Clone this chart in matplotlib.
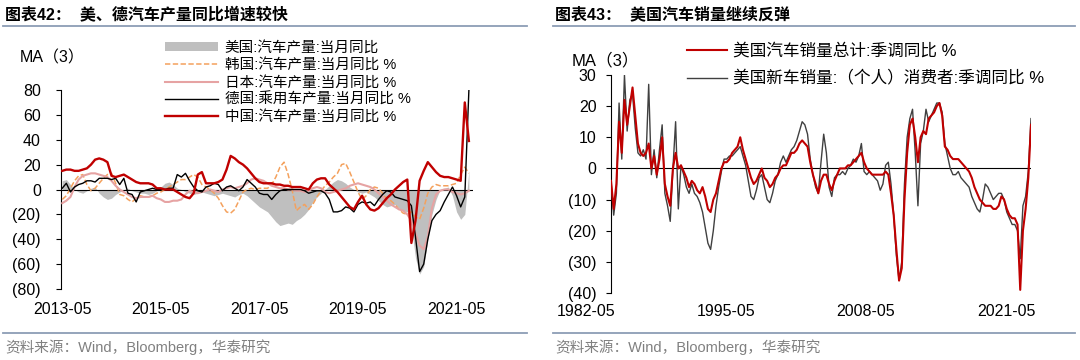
import matplotlib
matplotlib.use('Agg')
import matplotlib.pyplot as plt
import matplotlib.transforms as mtransforms
from matplotlib.patches import Patch
from matplotlib.lines import Line2D
from matplotlib.ticker import FuncFormatter

plt.rcParams['font.family'] = ['Liberation Sans', 'Noto Sans CJK SC']

# ---- left chart: MA(3) yoy %, monthly from 2013-05 ----
prod_ticks = ['2013-05', '2015-05', '2017-05', '2019-05', '2021-05']
us_prod = [7, 8, 4, 0, -2, -3, -1, 1, 2, -3,
           -6, -8, -7, -4, -2, 0, 1, -1, -2, -3,
           -3, -4, -3, -1, 2, 5, 6, 4, 1, 0,
           -2, -3, -4, -3, -2, -3, -4, -5, -4, -3,
           -4, -5, -6, -4, -3, -5, -8, -11, -14, -16,
           -18, -22, -26, -29, -28, -27, -28, -25, -23, -20,
           -16, -10, -6, -3, 0, 3, 6, 8, 7, 5,
           2, 0, -2, -3, -2, -4, -6, -9, -12, -14,
           -13, -12, -15, -17, -18, -30, -55, -68, -62, -40,
           -20, -8, 0, 1, 2, -5, -18, -24, -20, 15]
kr_prod = [-8, -5, 1, 7, 11, 12, 4, -1, 1, 5,
           9, 12, 13, 5, -4, -5, -8, -10, -7, -5,
           -6, -6, -5, -3, -2, 0, 2, 4, 6, 8,
           8, 10, 12, 10, 4, 2, 0, -3, -7, -13,
           -18, -19, -16, -9, -2, 0, 1, 0, 1, 1,
           1, 4, 10, 18, 22, 12, -1, -17, -14, -12,
           -16, -12, -6, -1, 3, 6, 10, 13, 20, 21,
           14, 6, -2, -8, -5, 0, 2, 1, -3, -8,
           -9, -12, -16, -19, -20, -18, -22, -24, -15, -3,
           2, 4, 3, 3, 3, 4, 5, 12, 18, 13]
jp_prod = [-11, -9, -6, 2, 8, 11, 12, 13, 13, 12,
           11, 10, 7, 3, 0, -2, -4, -6, -7, -6,
           -6, -6, -5, -7, -8, -10, -10, -9, -9, -8,
           -4, -1, -2, -3, -2, -1, 0, -1, -2, 0,
           1, 2, 1, 2, 3, 5, 8, 9, 8, 7,
           5, 3, 2, 1, 1, 0, 0, -1, -1, -2,
           -1, 1, 2, 1, -2, -3, -2, -1, 0, 1,
           3, 4, 5, 4, 3, 2, 0, -3, -6, -9,
           -12, -14, -16, -17, -20, -25, -35, -45, -48, -38,
           -15, -4, -1, 0, 0, -2, -3, -4, -3, -1]
de_prod = [1, 5, -2, 2, 4, 5, 7, 7, 6, 9,
           9, 9, 8, 9, 4, 9, -3, -4, -10, -2,
           -1, 0, 1, 0, 0, 0, 1, 1, 12, 10,
           13, 7, 2, -1, -2, 2, 3, 5, 4, -1,
           2, 3, 1, -1, 2, 8, 5, 2, -3, -4,
           -4, -8, -4, -1, 0, 0, 0, 0, 0, -1,
           -3, -2, -1, -1, -3, -8, -18, -18, -17, -14,
           -15, -18, -12, -10, -11, -10, -13, -8, -4, -1,
           -2, -6, -7, -8, -9, -13, -38, -66, -60, -40,
           -25, -20, -17, -10, -4, 2, -5, -14, -6, 80]
cn_prod = [15, 16, 16, 15, 15, 16, 17, 20, 24, 25,
           24, 22, 11, 10, 11, 12, 10, 8, 6, 5,
           5, 5, 4, 1, 1, 0, 0, 0, -2, -4,
           -6, -7, -3, 12, 14, 5, 5, 5, 6, 8,
           16, 27, 25, 22, 20, 17, 13, 9, 6, 5,
           5, 5, 4, 4, 3, 3, 2, 2, 2, 1,
           0, 5, 8, 9, 9, 4, 1, -2, -6, -10,
           -14, -16, -10, -5, -12, -16, -17, -15, -11, -7,
           -4, 0, 3, 6, 8, -43, -25, 7, 15, 22,
           18, 14, 11, 10, 10, 9, 8, 7, 70, 39]

# ---- right chart: MA(3) yoy %, sampled quarterly from 1982-05 ----
sales_ticks = ['1982-05', '1995-05', '2008-05', '2021-05']
us_sales_total = [-4, -13, -5, 15, 5, 22, 14, 20, 26, 17,
                  8, 5, 4, 5, 8, 0, 4, -2, 3, 10,
                  -5, -9, -12, 0, 5, 0, 1, -1, -3, -6,
                  -4, -5, -7, -8, -6, -9, -13, -14, -10, -8,
                  -4, 0, 2, 2, 3, 5, 6, 7, 10, 6,
                  3, 0, -3, -5, -4, -2, 0, -3, -4, -6,
                  -5, -3, -2, 0, 1, 1, 3, 5, 5, 6,
                  8, 9, 8, 7, 2, -2, -5, -8, -4, -2,
                  -2, -5, -7, -4, -2, 0, 0, 0, 1, 1,
                  2, 3, 4, 5, 2, 0, -1, -2, -2, -2,
                  -2, -2, -1, -2, -8, -15, -26, -36, -32, -10,
                  5, 14, 16, 10, 2, 10, 12, 11, 16, 17,
                  18, 20, 21, 17, 7, 6, 4, 3, 3, 3,
                  2, 1, 0, -1, -3, -6, -8, -10, -11, -12,
                  -12, -12, -13, -13, -12, -9, -10, -13, -15, -16,
                  -16, -18, -39, -20, -13, -3, 14]
us_new_car = [-4, -15, -8, 21, 3, 30, 12, 22, 24, 13,
              5, 4, 6, 3, 27, -2, 6, -3, 6, 14,
              -8, -12, -17, 0, 15, -13, 1, -2, -6, -8,
              -5, -8, -9, -11, -14, -19, -24, -26, -20, -12,
              -6, -1, 3, 3, 4, 4, 5, 6, 7, 4,
              1, -4, -9, -10, -7, -3, -2, -6, -10, -11,
              -8, -4, -2, 2, 4, 2, 4, 6, 7, 9,
              12, 15, 14, 11, 3, -2, -6, -8, 2, 11,
              5, -6, -9, -3, -2, -2, -1, -2, 0, 1,
              3, 2, 4, 8, -1, -2, -1, -2, -3, -4,
              -7, -5, 1, 2, -5, -15, -28, -36, -30, -5,
              10, 16, 19, 5, -12, 8, 12, 19, 15, 17,
              19, 21, 21, 18, 8, 4, 0, -2, -2, -1,
              -3, -4, -5, -6, -9, -11, -13, -14, -10, -5,
              -6, -8, -10, -9, -8, -8, -10, -14, -16, -18,
              -18, -20, -29, -12, -9, -1, 16]

GRAY_FILL = '#bfbfbf'
ORANGE = '#F4A15D'
PINK = '#E6A3A3'
RED = '#C00000'
RULE = '#8C9DB5'


def paren(v, pos):
    v = int(round(v))
    return f'({-v})' if v < 0 else f'{v}'


def style_axis(ax, ypad):
    for s in ['top', 'right', 'bottom']:
        ax.spines[s].set_visible(False)
    ax.spines['left'].set_linewidth(0.8)
    ax.tick_params(axis='y', direction='out', length=3.5, width=0.8,
                   pad=ypad, labelsize=11.5)
    ax.tick_params(axis='x', length=0, pad=9, labelsize=11.5)
    ax.yaxis.set_major_formatter(FuncFormatter(paren))
    ax.axhline(0, color='black', lw=0.8, zorder=3)


fig = plt.figure(figsize=(10.8, 3.6), dpi=100)

# ---------------- left panel ----------------
ax1 = fig.add_axes([61 / 1080, 1 - 289 / 360, 412 / 1080, 199 / 360])
m = list(range(len(cn_prod)))
ax1.fill_between(m, us_prod, 0, color=GRAY_FILL, lw=0, zorder=1)
h_kr, = ax1.plot(m, kr_prod, color=ORANGE, lw=1.1, ls=(0, (3.5, 1.6)), zorder=4)
h_jp, = ax1.plot(m, jp_prod, color=PINK, lw=1.5, zorder=4)
h_de, = ax1.plot(m, de_prod, color='black', lw=1.0, zorder=5)
h_cn, = ax1.plot(m, cn_prod, color=RED, lw=1.7, zorder=6)
ax1.set_xlim(-0.3, 100)
ax1.set_ylim(-80, 80)
ax1.set_yticks(range(-80, 81, 20))
ax1.set_xticks([i * 24 for i in range(len(prod_ticks))])
ax1.set_xticklabels(prod_ticks)
style_axis(ax1, 11)

ax1.legend([Patch(facecolor=GRAY_FILL, edgecolor='none'), h_kr, h_jp, h_de, h_cn],
           ['美国:汽车产量:当月同比', '韩国:汽车产量:当月同比 %', '日本:汽车产量:当月同比 %',
            '德国:乘用车产量:当月同比 %', '中国:汽车产量:当月同比 %'],
           loc='upper left', bbox_to_anchor=(165 / 1080, 1 - 41 / 360),
           bbox_transform=fig.transFigure, frameon=False, fontsize=10.5,
           handlelength=3.6, handleheight=0.6, handletextpad=0.5,
           labelspacing=0.22, borderpad=0, borderaxespad=0)

fig.text(20 / 1080, 1 - 58 / 360, 'MA（3）', fontsize=11.5, va='center')

# ---------------- right panel ----------------
ax2 = fig.add_axes([611 / 1080, 1 - 293 / 360, 420 / 1080, 218 / 360])
k = list(range(len(us_sales_total)))
h_tot, = ax2.plot(k, us_sales_total, color=RED, lw=1.5, zorder=5)
h_new, = ax2.plot(k, us_new_car, color='#404040', lw=1.0, zorder=4)
ax2.set_xlim(0, len(k) - 1)
ax2.set_ylim(-40, 30)
ax2.set_yticks(range(-40, 31, 10))
ax2.set_xticks([])
style_axis(ax2, 7)
# date labels sit a little left of their quarter, as in the source chart
lab_tr = (mtransforms.blended_transform_factory(ax2.transData, ax2.transAxes)
          + mtransforms.ScaledTranslation(-0.25, -0.11, fig.dpi_scale_trans))
for i, lab in enumerate(sales_ticks):
    ax2.text(i * 52, 0, lab, transform=lab_tr, ha='center', va='top',
             fontsize=11.5, clip_on=False)

ax2.legend([h_tot, h_new],
           ['美国汽车销量总计:季调同比 %', '美国新车销量:（个人）消费者:季调同比 %'],
           loc='upper left', bbox_to_anchor=(687 / 1080, 1 - 43 / 360),
           bbox_transform=fig.transFigure, frameon=False, fontsize=12,
           handlelength=2.4, handletextpad=0.36,
           labelspacing=0.72, borderpad=0, borderaxespad=0)

fig.text(572 / 1080, 1 - 60 / 360, 'MA（3）', fontsize=12, va='center')

# ---------------- titles, rules, sources ----------------
for x0, x1, title in [(3, 527, '图表42：  美、德汽车产量同比增速较快'),
                      (553, 1075, '图表43：  美国汽车销量继续反弹')]:
    fig.text((x0 + 2) / 1080, 1 - 14 / 360, title, fontsize=11.5,
             fontweight='bold', va='center')
    fig.add_artist(Line2D([x0 / 1080, x1 / 1080], [1 - 26 / 360] * 2,
                          color=RULE, lw=1.3, transform=fig.transFigure))
    fig.add_artist(Line2D([x0 / 1080, x1 / 1080], [1 - 333 / 360] * 2,
                          color=RULE, lw=1.3, transform=fig.transFigure))
    fig.text((x0 + 2) / 1080, 1 - 347 / 360, '资料来源：Wind，Bloomberg，华泰研究',
             fontsize=10.5, color='#808080', va='center')

fig.savefig('out.png', dpi=100)
